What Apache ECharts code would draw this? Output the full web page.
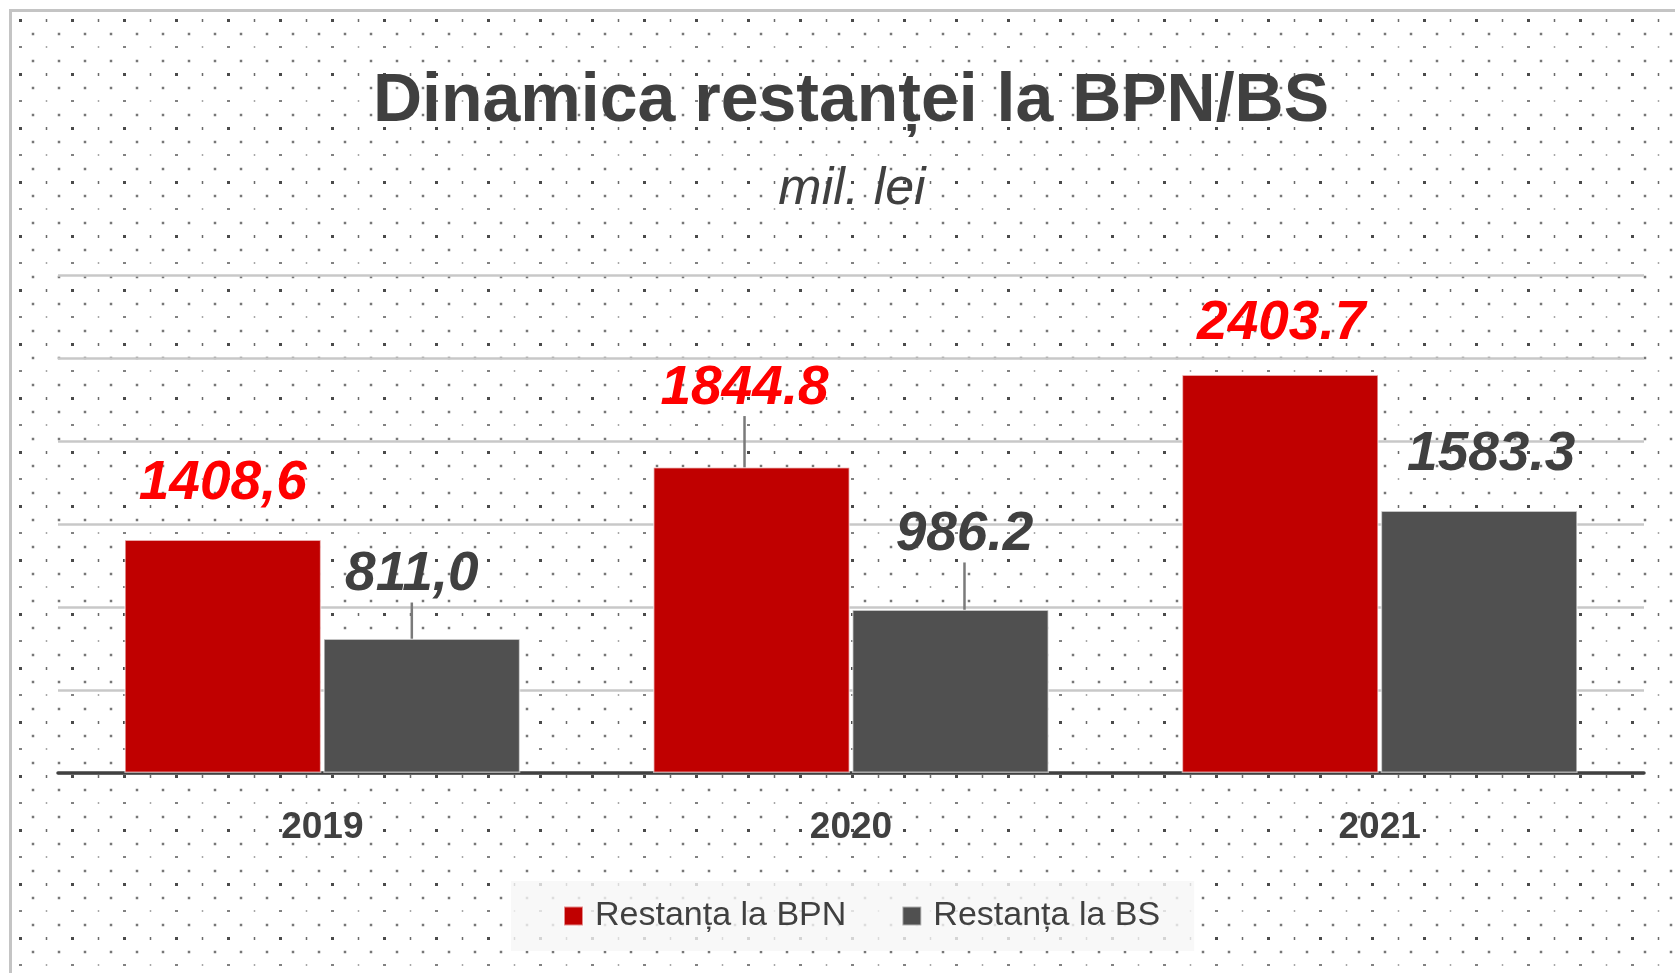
<!DOCTYPE html>
<html>
<head>
<meta charset="utf-8">
<script src="https://cdn.jsdelivr.net/npm/echarts@6/dist/echarts.min.js"></script>
<style>
html,body{margin:0;padding:0;background:#fff;}
#chart{width:1675px;height:973px;}
</style>
</head>
<body>
<div id="chart"></div>
<script>
var years = ['2019', '2020', '2021'];
var bpnValues = [1408.6, 1844.8, 2403.7];
var bsValues = [811.0, 986.2, 1583.3];
var bpnText = ['1408,6', '1844.8', '2403.7'];
var bsText = ['811,0', '986.2', '1583.3'];
var seriesNames = ['Restanța la BPN', 'Restanța la BS'];

// how far each value label sits from its bar (px), and which ones have a leader line
var bpnShift = [[0, -28], [-7, -51], [1, -23]];
var bsShift = [[-10, -36], [14, -47], [12, -28]];
var bpnGuide = [false, true, false];
var bsGuide = [true, true, false];

var FONT = 'Liberation Sans';

// dotted paper background
function dotTile() {
	var c = document.createElement('canvas');
	c.width = 52; c.height = 54;
	var g = c.getContext('2d');
	g.fillStyle = '#ffffff';
	g.fillRect(0, 0, 52, 54);
	function mark(x, y, w, h, col) {
		g.fillStyle = col;
		g.fillRect(x - w / 2, y - h / 2, w, h);
	}
	mark(20.5, 20.5, 3, 3, '#4a4a4a');
	mark(46.5, 20.5, 1.5, 3, '#6a6a6a');
	mark(33, 34, 2.5, 2.5, '#777777');
	mark(7, 34, 2.5, 2.5, '#777777');
	mark(20.5, 47, 3, 1.5, '#5a5a5a');
	mark(46.5, 47, 1.5, 1.5, '#8a8a8a');
	mark(33, 7, 2.5, 2.5, '#777777');
	mark(7, 7, 2.5, 2.5, '#777777');
	return c;
}

var chart = echarts.init(document.getElementById('chart'), null, {renderer: 'canvas'});

function itemsOf(values, guides) {
	return values.map(function (v, i) {
		return {value: v, labelLine: {show: guides[i]}};
	});
}

var option = {
	animation: false,
	backgroundColor: {image: dotTile(), repeat: 'repeat'},
	graphic: [
		{type: 'rect', shape: {x: 0, y: 0, width: 9, height: 973}, style: {fill: '#ffffff'}, silent: true},
		{type: 'rect', shape: {x: 0, y: 0, width: 1675, height: 9}, style: {fill: '#ffffff'}, silent: true},
		{type: 'rect', shape: {x: 9, y: 9, width: 3, height: 964}, style: {fill: '#c4c4c4'}, silent: true},
		{type: 'rect', shape: {x: 9, y: 9, width: 1666, height: 3}, style: {fill: '#c4c4c4'}, silent: true}
	],
	title: [
		{
			text: 'Dinamica restanței la BPN/BS',
			left: 851, top: 68, textAlign: 'center', padding: 0,
			textStyle: {fontFamily: FONT, fontSize: 68, fontWeight: 'bold', color: '#404040'}
		},
		{
			text: 'mil. lei',
			left: 852, top: 164, textAlign: 'center', padding: 0,
			textStyle: {fontFamily: FONT, fontSize: 52, fontStyle: 'italic', fontWeight: 'normal', color: '#404040'}
		}
	],
	legend: {
		data: seriesNames,
		left: 511, top: 881,
		padding: [18, 34, 18, 52],
		backgroundColor: 'rgba(246,246,246,0.8)',
		icon: 'rect',
		itemWidth: 19, itemHeight: 19,
		itemGap: 55,
		textStyle: {fontFamily: FONT, fontSize: 34, color: '#404040', padding: [0, 0, 0, 7]}
	},
	grid: {left: 58, right: 31, top: 275.5, bottom: 200},
	xAxis: {
		type: 'category',
		data: years,
		axisLine: {lineStyle: {color: '#404040', width: 3.5}},
		axisTick: {show: false},
		axisLabel: {fontFamily: FONT, fontSize: 37, fontWeight: 'bold', color: '#404040', margin: 36}
	},
	yAxis: {
		type: 'value',
		min: 0, max: 3000, interval: 500,
		axisLabel: {show: false},
		axisLine: {show: false},
		axisTick: {show: false},
		splitLine: {lineStyle: {color: '#c8c8c8', width: 2.5}}
	},
	series: [
		{
			name: seriesNames[0],
			type: 'bar',
			data: itemsOf(bpnValues, bpnGuide),
			barWidth: 197,
			barGap: '1%',
			itemStyle: {color: '#C00000', borderColor: 'rgba(255,255,255,0.55)', borderWidth: 1.5},
			label: {
				show: true, position: 'top', distance: 0,
				formatter: function (p) { return bpnText[p.dataIndex]; },
				fontFamily: FONT, fontSize: 55, fontWeight: 'bold', fontStyle: 'italic', color: '#FF0000'
			},
			labelLine: {show: false, lineStyle: {color: '#7a7a7a', width: 2.5}},
			labelLayout: function (p) {
				return {dx: bpnShift[p.dataIndex][0], dy: bpnShift[p.dataIndex][1]};
			}
		},
		{
			name: seriesNames[1],
			type: 'bar',
			data: itemsOf(bsValues, bsGuide),
			barWidth: 197,
			barGap: '1%',
			itemStyle: {color: '#505050', borderColor: 'rgba(255,255,255,0.55)', borderWidth: 1.5},
			label: {
				show: true, position: 'top', distance: 0,
				formatter: function (p) { return bsText[p.dataIndex]; },
				fontFamily: FONT, fontSize: 55, fontWeight: 'bold', fontStyle: 'italic', color: '#404040'
			},
			labelLine: {show: false, lineStyle: {color: '#7a7a7a', width: 2.5}},
			labelLayout: function (p) {
				return {dx: bsShift[p.dataIndex][0], dy: bsShift[p.dataIndex][1]};
			}
		}
	]
};

chart.setOption(option);
window.addEventListener('resize', chart.resize);
</script>
</body>
</html>
